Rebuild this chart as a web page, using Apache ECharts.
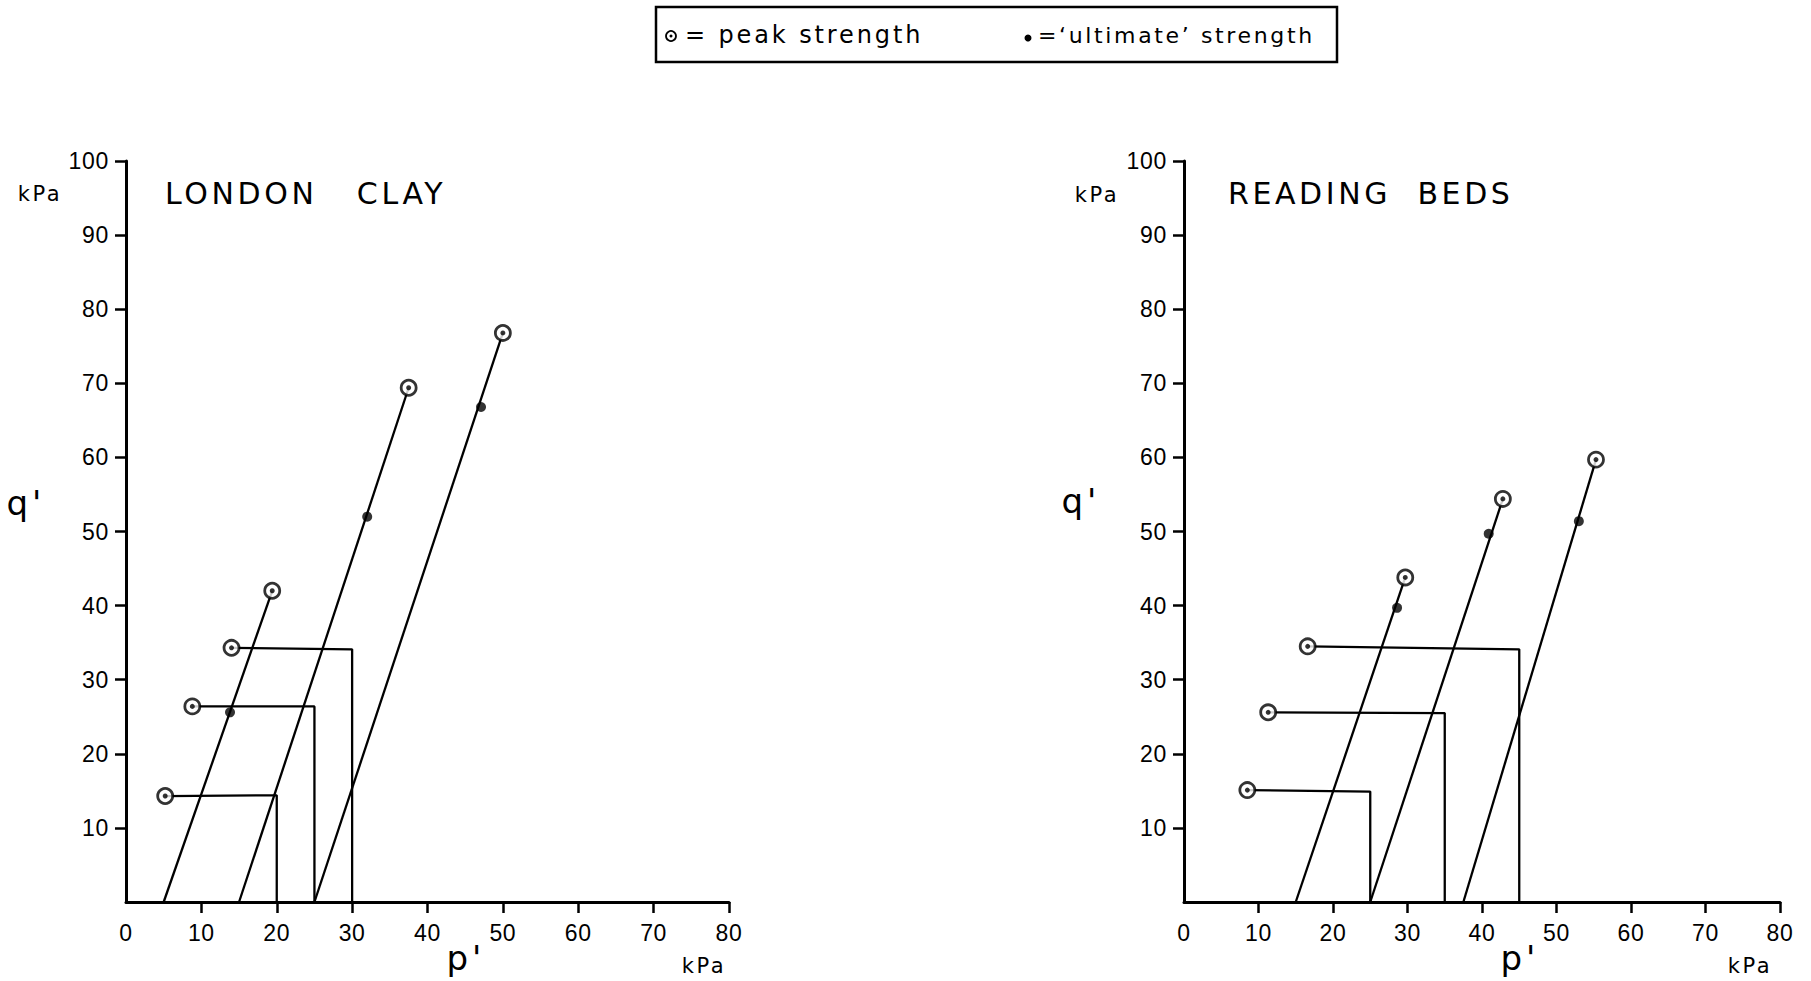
<!DOCTYPE html>
<html>
<head>
<meta charset="utf-8">
<title>Stress paths – London Clay and Reading Beds</title>
<script src="https://cdn.jsdelivr.net/npm/echarts@6.0.0/dist/echarts.min.js"></script>
<style>
  html, body { margin: 0; padding: 0; background: #fff; }
  #chart { width: 1811px; height: 981px; }
  /* hand-lettered look: open out the lettering a little */
  #chart text { letter-spacing: 0.12em; }
  /* numerals stay tighter */
  #chart text[style*="Liberation"], #chart text[font-family*="Liberation"] { letter-spacing: 0.03em; }
</style>
</head>
<body>
<div id="chart"></div>
<script>
// Axis ticks (kPa)
const pTicks = [0, 10, 20, 30, 40, 50, 60, 70, 80];
const qTicks = [10, 20, 30, 40, 50, 60, 70, 80, 90, 100];

// London Clay: compression paths (p', q') from start to peak
const clayInclined = [
  [[5, 0], [19.4, 42.0]],
  [[15, 0], [37.5, 69.4]],
  [[25, 0], [50.0, 76.8]]
];
// London Clay: paths raised at constant p', then unloaded in p' at constant q'
const clayStepped = [
  [[20, 0], [20, 14.4], [5.2, 14.3]],
  [[25, 0], [25, 26.4], [8.8, 26.4]],
  [[30, 0], [30, 34.1], [14.0, 34.3]]
];
const clayPeak = [[19.4, 42.0], [37.5, 69.4], [50.0, 76.8], [5.2, 14.3], [8.8, 26.4], [14.0, 34.3]];
const clayUltimate = [[13.8, 25.6], [32.0, 52.0], [47.1, 66.8]];

// Reading Beds
const bedsInclined = [
  [[15, 0], [29.7, 43.8]],
  [[25, 0], [42.8, 54.4]],
  [[37.5, 0], [55.3, 59.7]]
];
const bedsStepped = [
  [[25, 0], [25, 14.9], [8.5, 15.1]],
  [[35, 0], [35, 25.5], [11.3, 25.6]],
  [[45, 0], [45, 34.1], [16.6, 34.5]]
];
const bedsPeak = [[29.7, 43.8], [42.8, 54.4], [55.3, 59.7], [8.5, 15.1], [11.3, 25.6], [16.6, 34.5]];
const bedsUltimate = [[28.6, 39.7], [40.9, 49.7], [53.0, 51.4]];

const panelTitles = ['LONDON   CLAY', 'READING  BEDS'];
const legendPeak = '= peak strength';
const legendUltimate = '=\u2018ultimate\u2019 strength';

const INK = '#000';
const tickFont = 'Liberation Sans';
const letterFont = 'DejaVu Sans';

const chart = echarts.init(document.getElementById('chart'), null, { renderer: 'svg' });

function xAxisFor(g) {
  return {
    type: 'value', gridIndex: g, min: 0, max: 80, interval: 10,
    axisLine: { show: true, onZero: false, lineStyle: { color: INK, width: 3 } },
    axisTick: { show: true, length: 11, customValues: pTicks.slice(1), lineStyle: { color: INK, width: 2.5 } },
    axisLabel: { color: INK, fontFamily: tickFont, fontSize: 23, margin: 19, customValues: pTicks },
    splitLine: { show: false }
  };
}
function yAxisFor(g) {
  return {
    type: 'value', gridIndex: g, min: 0, max: 100, interval: 10,
    axisLine: { show: true, onZero: false, lineStyle: { color: INK, width: 3 } },
    axisTick: { show: true, length: 11, customValues: qTicks, lineStyle: { color: INK, width: 2.5 } },
    axisLabel: { color: INK, fontFamily: tickFont, fontSize: 23, margin: 17, customValues: qTicks,
                 formatter: v => (v === 0 ? '' : String(v)) },
    splitLine: { show: false }
  };
}
function pathSeries(paths, g) {
  return paths.map(pts => ({
    type: 'line', xAxisIndex: g, yAxisIndex: g, data: pts,
    symbol: 'none', silent: true, z: 2,
    lineStyle: { color: INK, width: 2.3 }
  }));
}
function markerSeries(peak, ultimate, g) {
  return [
    { type: 'scatter', xAxisIndex: g, yAxisIndex: g, data: peak, symbol: 'circle', symbolSize: 15, z: 3,
      itemStyle: { color: '#fff', borderColor: INK, borderWidth: 2.8 } },
    { type: 'scatter', xAxisIndex: g, yAxisIndex: g, data: peak, symbol: 'circle', symbolSize: 5, z: 4,
      itemStyle: { color: INK } },
    { type: 'scatter', xAxisIndex: g, yAxisIndex: g, data: ultimate, symbol: 'circle', symbolSize: 10, z: 4,
      itemStyle: { color: INK } }
  ];
}
function label(text, x, y, size, align) {
  return { type: 'text', x: x, y: y, silent: true,
    style: { text: text, fill: INK, font: size + 'px "' + letterFont + '"', align: align || 'center', verticalAlign: 'middle' } };
}

const option = {
  animation: false,
  backgroundColor: '#fff',
  title: panelTitles.map((t, i) => ({
    text: t, left: i === 0 ? 165 : 1228, top: 178, padding: 0,
    textStyle: { color: INK, fontFamily: letterFont, fontWeight: 'normal', fontSize: 30, lineHeight: 30 }
  })),
  grid: [
    { left: 126, top: 161, width: 603, height: 741 },
    { left: 1184, top: 161, width: 596, height: 741 }
  ],
  xAxis: [xAxisFor(0), xAxisFor(1)],
  yAxis: [yAxisFor(0), yAxisFor(1)],
  series: [].concat(
    pathSeries(clayInclined, 0), pathSeries(clayStepped, 0), markerSeries(clayPeak, clayUltimate, 0),
    pathSeries(bedsInclined, 1), pathSeries(bedsStepped, 1), markerSeries(bedsPeak, bedsUltimate, 1)
  ),
  graphic: [
    // key box
    { type: 'rect', shape: { x: 656, y: 7, width: 681, height: 55 }, silent: true,
      style: { fill: 'none', stroke: INK, lineWidth: 2.5 } },
    { type: 'circle', shape: { cx: 671, cy: 36, r: 5 }, silent: true, style: { fill: '#fff', stroke: INK, lineWidth: 1.8 } },
    { type: 'circle', shape: { cx: 671, cy: 36, r: 1.5 }, silent: true, style: { fill: INK } },
    label(legendPeak, 685, 35, 24, 'left'),
    { type: 'circle', shape: { cx: 1028, cy: 38, r: 3.5 }, silent: true, style: { fill: INK } },
    label(legendUltimate, 1038, 35, 22, 'left'),
    // axis names and units
    label("q'", 26, 503, 34), label("q'", 1081, 501, 34),
    label("p'", 466, 958, 34), label("p'", 1520, 958, 34),
    label('kPa', 40, 194, 21), label('kPa', 1097, 195, 21),
    label('kPa', 704, 966, 21), label('kPa', 1750, 966, 21)
  ]
};
chart.setOption(option);
</script>
</body>
</html>
